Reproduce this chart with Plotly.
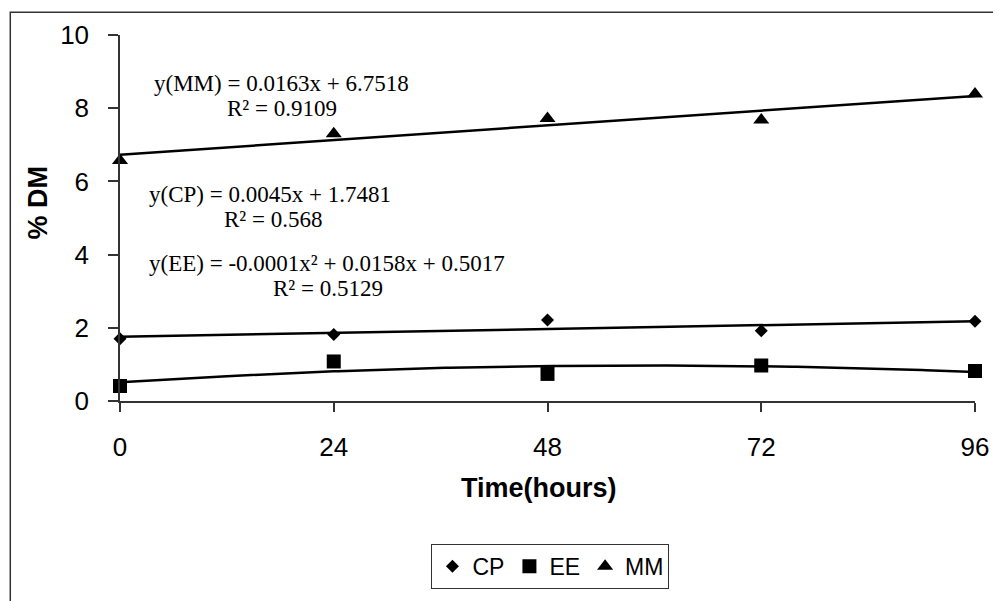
import numpy as np
import plotly.graph_objects as go

# ---- data ----
time_h = [0, 24, 48, 72, 96]
cp = [1.70, 1.82, 2.21, 1.92, 2.18]
ee = [0.41, 1.08, 0.74, 0.97, 0.82]
mm = [6.57, 7.30, 7.72, 7.68, 8.39]
series_names = ["CP", "EE", "MM"]
x_ticks = [0, 24, 48, 72, 96]
y_ticks = [0, 2, 4, 6, 8, 10]
eq_mm = ["y(MM) = 0.0163x + 6.7518", "R² = 0.9109"]
eq_cp = ["y(CP) = 0.0045x + 1.7481", "R² = 0.568"]
eq_ee = ["y(EE) = -0.0001x² + 0.0158x + 0.5017", "R² = 0.5129"]

# ---- geometry (reference pixel coords; page body adds 8px offset) ----
OFF = 8
W, H = 1001 - OFF, 601 - OFF
L, R, T, B = 120, 985, 33, 404.3
def px(xp):
    return (xp - L) / (R - L)
def py(yp):
    return (B - yp) / (B - T)

fig = go.Figure()

xs = np.linspace(0, 96, 193)
fits = [(cp, 1), (ee, 2), (mm, 1)]
for vals, deg in fits:
    c = np.polyfit(time_h, vals, deg)
    fig.add_trace(go.Scatter(x=xs, y=np.polyval(c, xs), mode="lines",
                             line=dict(color="black", width=2.5),
                             showlegend=False, hoverinfo="skip", cliponaxis=False))

symbols = ["diamond", "square", "triangle-up"]
sizes = [10, 14, 14]
for name, vals, sym, sz in zip(series_names, [cp, ee, mm], symbols, sizes):
    fig.add_trace(go.Scatter(x=time_h, y=vals, mode="markers", name=name,
                             marker=dict(symbol=sym, size=sz, color="black"),
                             cliponaxis=False))

serif = "Liberation Serif, Times New Roman, serif"
sans = "Liberation Sans, Arial, sans-serif"
ann = []
def add_text(t, xc, yc, size=23, fam=serif, bold=False, angle=0):
    ann.append(dict(text=("<b>%s</b>" % t) if bold else t, x=px(xc), y=py(yc),
                    xref="paper", yref="paper", xanchor="center", yanchor="middle",
                    showarrow=False, textangle=angle,
                    font=dict(family=fam, size=size, color="black")))

add_text(eq_mm[0], 283, 82)
add_text(eq_mm[1], 284, 108)
add_text(eq_cp[0], 271.5, 195)
add_text(eq_cp[1], 275, 220)
add_text(eq_ee[0], 329, 265)
add_text(eq_ee[1], 330, 290)
add_text("Time(hours)", 543.5, 493, size=27, fam=sans, bold=True)
add_text("% DM", 37, 203, size=27, fam=sans, bold=True, angle=-90)

shapes = [dict(type="rect", xref="paper", yref="paper",
               x0=px(9), x1=px(1015), y0=py(615), y1=py(10),
               line=dict(color="#333333", width=1.5), layer="below")]

axis_common = dict(showgrid=False, zeroline=False, showline=True,
                   linecolor="#333333", linewidth=1.5, ticks="outside",
                   tickcolor="#333333", tickwidth=1.5,
                   tickfont=dict(family=sans, size=26, color="black"))

fig.update_layout(
    width=W, height=H, autosize=False,
    margin=dict(l=L - OFF, r=1001 - R, t=T - OFF, b=601 - B),
    paper_bgcolor="white", plot_bgcolor="white",
    xaxis=dict(range=[0, 96], tickvals=x_ticks, ticklen=9,
               ticklabelstandoff=13, **axis_common),
    yaxis=dict(range=[0, 10], tickvals=y_ticks, ticklen=10,
               ticklabelstandoff=14, **axis_common),
    legend=dict(orientation="h", x=px(555.5), y=py(572), xanchor="center",
                yanchor="middle", bordercolor="#333333", borderwidth=1,
                font=dict(family=sans, size=23, color="black"),
                itemwidth=30, bgcolor="white"),
    annotations=ann, shapes=shapes,
)

fig.write_html("out.html")
